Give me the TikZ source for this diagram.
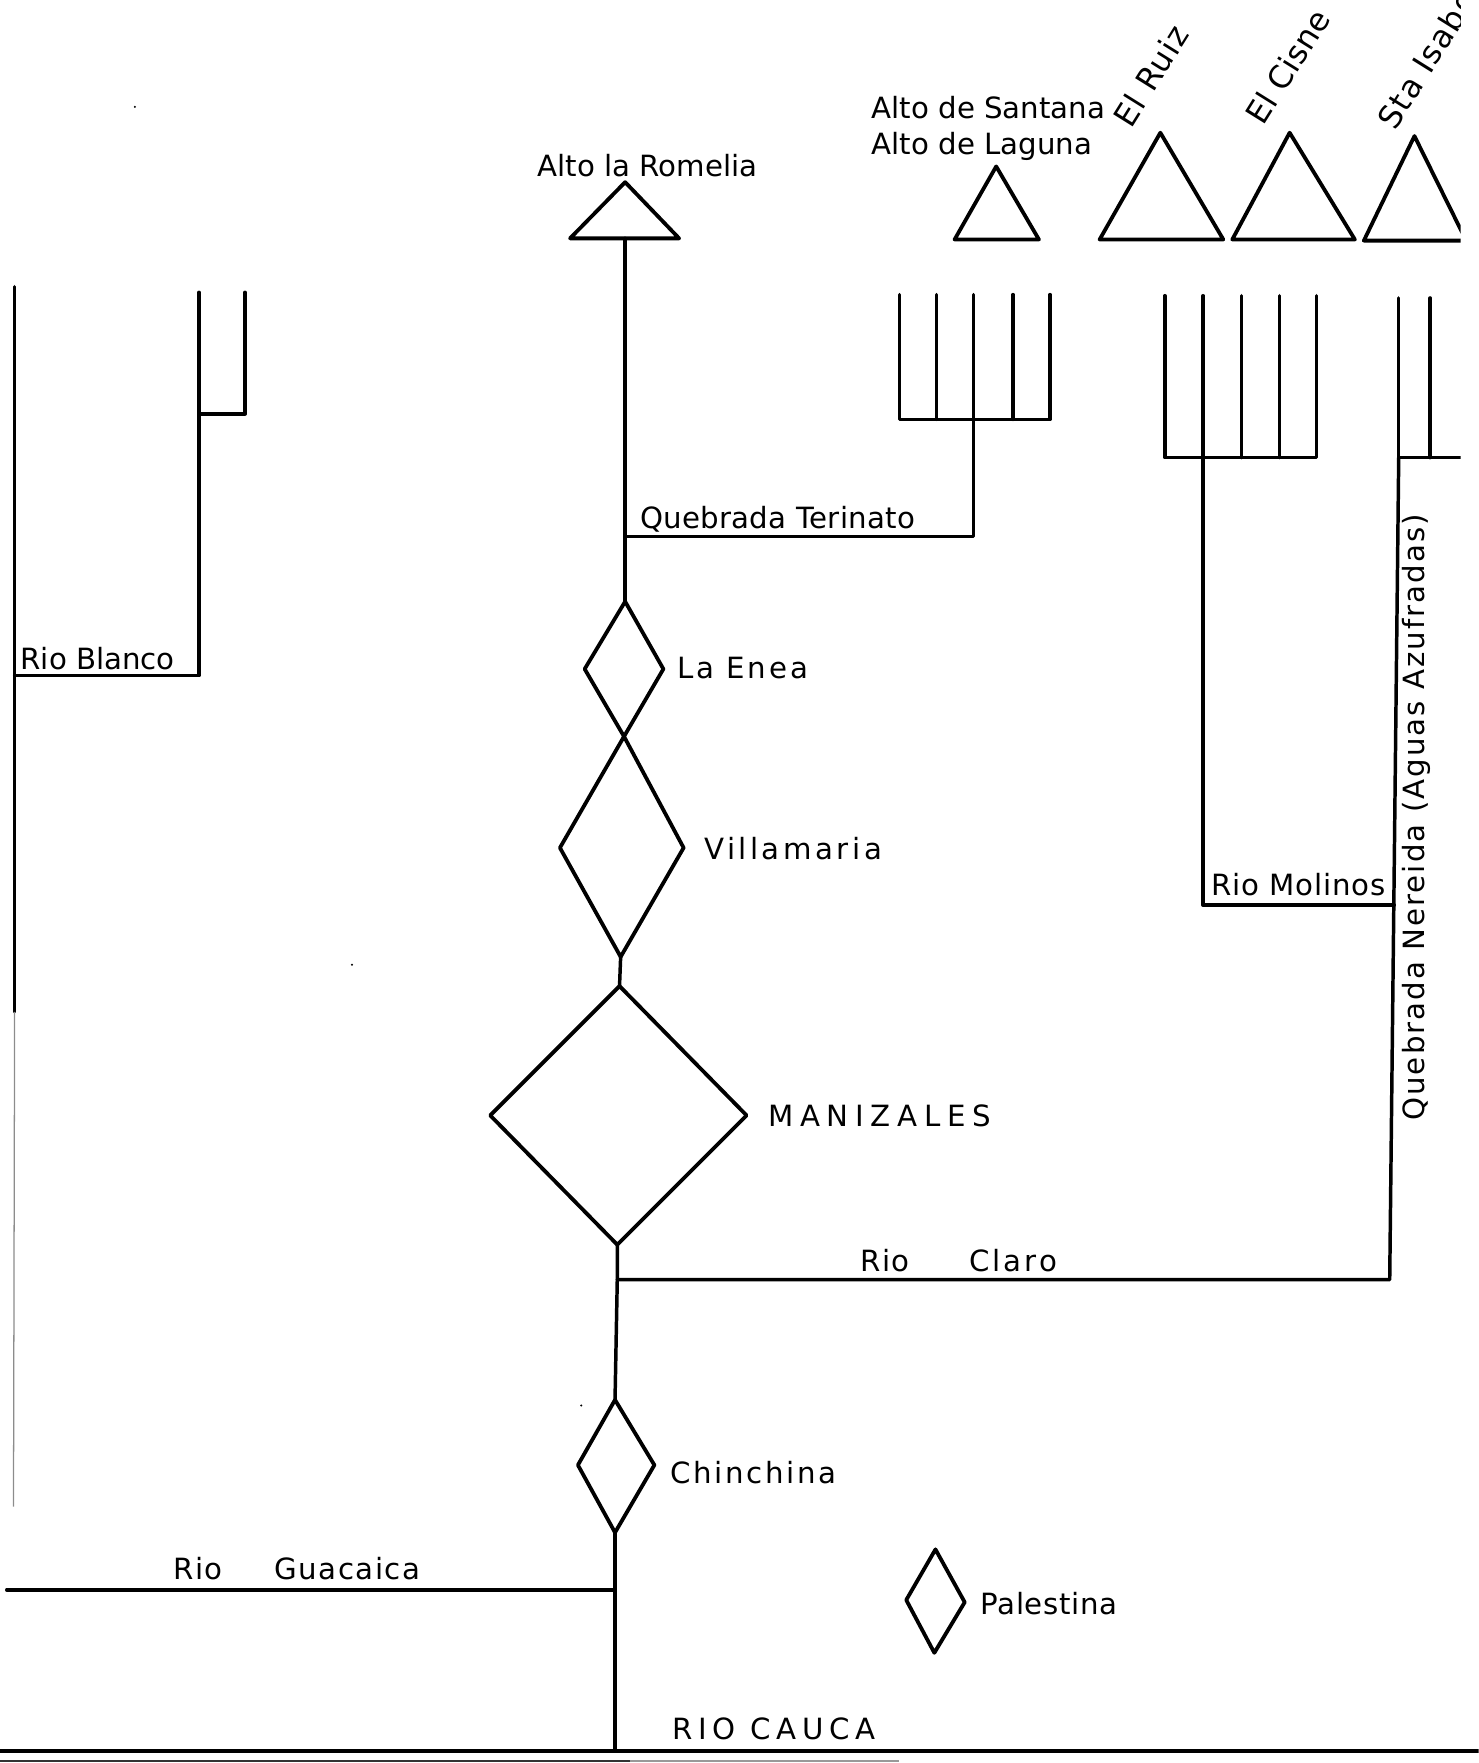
\documentclass[tikz,border=0pt]{standalone}
\usepackage{fontspec}
\newfontfamily\lf{DejaVu Sans}
\tikzset{
  ln/.style={line width=2.2pt, line cap=round, line join=round},
  shp/.style={line width=2.4pt, line join=round},
  lab/.style={inner sep=0pt, anchor=base west, font=\lf\fontsize{18.5}{22}\selectfont\addfontfeature{LetterSpace=#1}},
  lab/.default=0,
  rlab/.style={inner sep=0pt, anchor=base west, rotate=58, font=\lf\fontsize{20}{24}\selectfont\addfontfeature{LetterSpace=#1}},
  rlab/.default=4,
}
\begin{document}
\begin{tikzpicture}[x=0.025cm,y=-0.025cm]
\useasboundingbox (0,0) rectangle (1315,1568);
\clip (0,0) rectangle (1315,1568);

% ---- trunk coordinates
\coordinate (romA) at (556,162);
\coordinate (romL) at (507,212);
\coordinate (romR) at (604,212);
\coordinate (romB) at (556,212);
\coordinate (terJ) at (556,477);
\coordinate (eneT) at (556,535);
\coordinate (eneR) at (590,595);
\coordinate (eneB) at (555,655);
\coordinate (eneL) at (520,595);
\coordinate (vilR) at (608,754);
\coordinate (vilB) at (552,851);
\coordinate (vilL) at (498,754);
\coordinate (manT) at (551,877);
\coordinate (manR) at (664,992);
\coordinate (manB) at (549,1107);
\coordinate (manL) at (436,992);
\coordinate (claJ) at (549,1138);
\coordinate (chiT) at (547,1245);
\coordinate (chiR) at (582,1303);
\coordinate (chiB) at (547,1363);
\coordinate (chiL) at (514,1303);
\coordinate (guaJ) at (547,1414);
\coordinate (cauJ) at (547,1557);

% ---- peaks (triangles)
\draw[shp] (romA) -- (romR) -- (romL) -- cycle;
\coordinate (sanA) at (886,148);
\draw[shp] (sanA) -- (924,213) -- (849,213) -- cycle;
\coordinate (ruiA) at (1032,118);
\draw[shp] (ruiA) -- (1088,213) -- (978,213) -- cycle;
\coordinate (cisA) at (1147,118);
\draw[shp] (cisA) -- (1205,213) -- (1096,213) -- cycle;

\begin{scope}
\clip (0,0) rectangle (1299,1500);
\coordinate (isaA) at (1258,121);
\draw[shp] (isaA) -- (1304,214) -- (1213,214) -- cycle;
\draw[shp] (1304,214) -- (1320,214);
\node[rlab] (tIsa) at (1241,117) {Sta Isabel};
% comb 3
\coordinate (c3J) at (1244,407);
\draw[ln] (1244,265) -- (c3J) -- (1320,407);
\draw[ln] (1272,265) -- (1272,407);
\end{scope}

% ---- towns (diamonds)
\draw[shp] (eneT) -- (eneR) -- (eneB) -- (eneL) -- cycle;
\draw[shp] (eneB) -- (vilR) -- (vilB) -- (vilL) -- cycle;
\draw[shp] (manT) -- (manR) -- (manB) -- (manL) -- cycle;
\draw[shp] (chiT) -- (chiR) -- (chiB) -- (chiL) -- cycle;
\coordinate (palT) at (832,1378);
\coordinate (palR) at (858,1425);
\coordinate (palB) at (831,1470);
\coordinate (palL) at (806,1423);
\draw[shp] (palT) -- (palR) -- (palB) -- (palL) -- cycle;

% ---- trunk connectors
\draw[ln] (romB) -- (terJ) -- (eneT);
\draw[ln] (vilB) -- (manT);
\draw[ln] (manB) -- (claJ) -- (chiT);
\draw[ln] (chiB) -- (guaJ) -- (cauJ);

% ---- Quebrada Terinato and comb 1
\coordinate (c1J) at (866,373);
\coordinate (c1S) at (866,477);
\draw[ln] (terJ) -- (c1S) -- (c1J);
\draw[ln] (800,262) -- (800,373) -- (934,373) -- (934,262);
\foreach \x in {833,866,901} \draw[ln] (\x,262) -- (\x,373);

% ---- comb 2 and Rio Molinos
\coordinate (c2J) at (1070,407);
\coordinate (molL) at (1070,805);
\coordinate (molR) at (1240,805);
\draw[ln] (1036,263) -- (1036,407) -- (1171,407) -- (1171,263);
\foreach \x in {1070,1104,1138} \draw[ln] (\x,263) -- (\x,407);
\draw[ln] (c2J) -- (molL) -- (molR);

% ---- Quebrada Nereida, Rio Claro
\coordinate (nerB) at (1236,1138);
\draw[ln] (c3J) -- (nerB) -- (claJ);

% ---- left side: Rio Blanco
\coordinate (blJ) at (13,601);
\draw[ln] (13,255) -- (blJ) -- (13,900);
\draw[line width=0.8pt, black!45] (13,900) -- (12,1340);
\draw[ln] (blJ) -- (177,601) -- (177,260);
\draw[ln] (177,368) -- (218,368) -- (218,260);

% ---- Rio Guacaica
\coordinate (guaW) at (6,1414);
\draw[ln] (guaW) -- (guaJ);

% ---- Rio Cauca
\coordinate (cauW) at (0,1557);
\coordinate (cauE) at (1315,1557);
\draw[line width=2.6pt] (cauW) -- (cauE);
\draw[line width=1.5pt, black!80] (0,1566) -- (560,1566);
\draw[line width=1.1pt, black!40] (560,1566) -- (800,1566);

% ---- specks
\fill (120,95) circle (1);
\fill (313,858) circle (1);
\fill (517,1250) circle (1);

% ---- labels
\node[lab] (tRom) at (478,157) {Alto la Romelia};
\node[lab] (tSan) at (775,105) {Alto de Santana};
\node[lab] (tLag) at (775,137) {Alto de Laguna};
\node[rlab] (tRui) at (1006,115) {El Ruiz};
\node[rlab=1] (tCis) at (1124,113) {El Cisne};
\node[lab=1] (tTer) at (569,470) {Quebrada Terinato};
\node[lab] (tBla) at (18,595) {Rio Blanco};
\node[lab=10] (tEne) at (602,603) {La Enea};
\node[lab=12] (tVil) at (626,764) {Villamaria};
\node[lab=23] (tMan) at (683,1002) {MANIZALES};
\node[lab=3] (tMol) at (1077,796) {Rio Molinos};
\node[lab=7, rotate=90] (tNer) at (1267,997) {Quebrada Nereida (Aguas Azufradas)};
\node[lab=5] (tCl1) at (765,1131) {Rio};
\node[lab=10] (tCl2) at (862,1131) {Claro};
\node[lab=9] (tChi) at (596,1319) {Chinchina};
\node[lab=5] (tGu1) at (154,1405) {Rio};
\node[lab=5] (tGu2) at (244,1405) {Guacaica};
\node[lab=2] (tPal) at (872,1436) {Palestina};
\node[lab=19] (tCau) at (598,1547) {RIO CAUCA};
\end{tikzpicture}
\end{document}
